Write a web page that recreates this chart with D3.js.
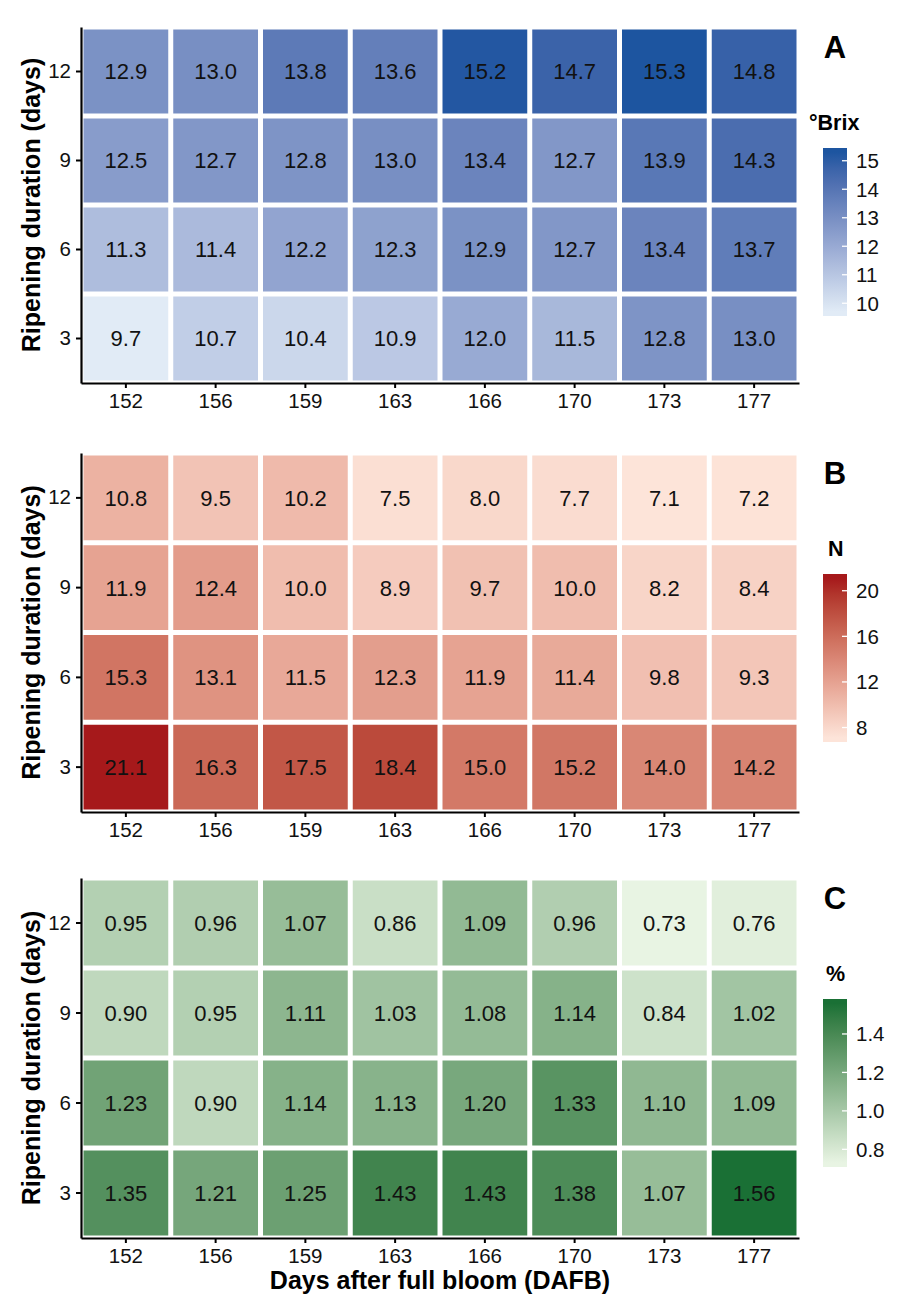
<!DOCTYPE html>
<html><head><meta charset="utf-8">
<script src="https://cdn.jsdelivr.net/npm/d3@7"></script>
<style>body{margin:0;background:#fff} svg{display:block} text{font-family:"Liberation Sans",Arial,sans-serif}</style>
</head><body><svg id="c" width="901" height="1309"></svg>
<script>
// ---- data ----
const days = ["152","156","159","163","166","170","173","177"];
const durations = ["12","9","6","3"];
const brix = [
  [12.9,13.0,13.8,13.6,15.2,14.7,15.3,14.8],
  [12.5,12.7,12.8,13.0,13.4,12.7,13.9,14.3],
  [11.3,11.4,12.2,12.3,12.9,12.7,13.4,13.7],
  [9.7,10.7,10.4,10.9,12.0,11.5,12.8,13.0]
];
const nitrogen = [
  [10.8,9.5,10.2,7.5,8.0,7.7,7.1,7.2],
  [11.9,12.4,10.0,8.9,9.7,10.0,8.2,8.4],
  [15.3,13.1,11.5,12.3,11.9,11.4,9.8,9.3],
  [21.1,16.3,17.5,18.4,15.0,15.2,14.0,14.2]
];
const percent = [
  [0.95,0.96,1.07,0.86,1.09,0.96,0.73,0.76],
  [0.90,0.95,1.11,1.03,1.08,1.14,0.84,1.02],
  [1.23,0.90,1.14,1.13,1.20,1.33,1.10,1.09],
  [1.35,1.21,1.25,1.43,1.43,1.38,1.07,1.56]
];
const brixTicks = [10,11,12,13,14,15];
const nTicks = [8,12,16,20];
const pctTicks = [0.8,1.0,1.2,1.4];
const panelLetters = ["A","B","C"];
const legendTitles = ["°Brix","N","%"];
const xTitle = "Days after full bloom (DAFB)";
const yTitle = "Ripening duration (days)";

// ---- layout / style ----
const panels = [
  {values:brix, ticks:brixTicks, fmt:".1f", tfmt:"d", low:"#E1EBF6", high:"#1D55A0", top:27, bottom:383, titleX:809},
  {values:nitrogen, ticks:nTicks, fmt:".1f", tfmt:"d", low:"#FDE4D9", high:"#A6191B", top:453, bottom:812, titleX:828},
  {values:percent, ticks:pctTicks, fmt:".2f", tfmt:".1f", low:"#E8F4E3", high:"#1A7035", top:878, bottom:1238, titleX:826}
];
const left = 81, right = 799;
const svg = d3.select("#c");

panels.forEach((p, pi) => {
  const g = svg.append("g");
  const x = d3.scaleBand().domain(days).range([left, right]).padding(0);
  const y = d3.scaleBand().domain(durations).range([p.top, p.bottom]).padding(0);
  const flat = p.values.flat();
  const ext = d3.extent(flat);
  const color = d3.scaleLinear().domain(ext).range([p.low, p.high]).interpolate(d3.interpolateLab).clamp(true);

  const cells = [];
  durations.forEach((dur, r) => days.forEach((day, c) => cells.push({dur, day, v: p.values[r][c]})));

  const inset = 2.5;
  g.selectAll("rect.tile").data(cells).enter().append("rect")
    .attr("x", d => x(d.day) + inset)
    .attr("y", d => y(d.dur) + inset)
    .attr("width", x.bandwidth() - 2*inset)
    .attr("height", y.bandwidth() - 2*inset)
    .attr("fill", d => color(d.v));

  g.selectAll("text.val").data(cells).enter().append("text")
    .attr("x", d => x(d.day) + x.bandwidth()/2)
    .attr("y", d => y(d.dur) + y.bandwidth()/2)
    .attr("dy", "0.36em")
    .attr("text-anchor", "middle")
    .attr("font-size", 22)
    .attr("fill", "#111")
    .text(d => d3.format(p.fmt)(d.v));

  // axes
  const ax = g.append("g").attr("transform", `translate(0,${p.bottom})`)
    .call(d3.axisBottom(x).tickSize(5).tickPadding(5).tickSizeOuter(0));
  const ay = g.append("g").attr("transform", `translate(${left},0)`)
    .call(d3.axisLeft(y).tickSize(5).tickPadding(5).tickSizeOuter(0));
  [ax, ay].forEach(a => {
    a.attr("font-family", null).attr("font-size", null);
    a.select(".domain").attr("stroke", "#000").attr("stroke-width", 2.2);
    a.selectAll(".tick line").attr("stroke", "#000").attr("stroke-width", 2);
    a.selectAll(".tick text").attr("font-size", 20.5).attr("fill", "#111");
  });

  // y title
  g.append("text")
    .attr("transform", `translate(40,${(p.top + p.bottom)/2}) rotate(-90)`)
    .attr("text-anchor", "middle").attr("font-weight", "bold").attr("font-size", 25)
    .attr("fill", "#000")
    .text(yTitle);

  // panel letter
  g.append("text").attr("x", 835).attr("y", p.top + 31)
    .attr("text-anchor", "middle").attr("font-weight", "bold").attr("font-size", 31)
    .text(panelLetters[pi]);

  // legend
  g.append("text").attr("x", p.titleX).attr("y", p.top + 103)
    .attr("font-weight", "bold").attr("font-size", 21.5)
    .text(legendTitles[pi]);
  const barTop = p.top + 121, L = 168, barBottom = barTop + L, bx = 823, bw = 24;
  const ly = d3.scaleLinear().domain(ext).range([barBottom - L/40, barTop + L/40]);
  const gid = "grad" + pi;
  const grad = svg.append("defs").append("linearGradient").attr("id", gid)
    .attr("x1", 0).attr("y1", 1).attr("x2", 0).attr("y2", 0);
  d3.range(0, 11).forEach(i => {
    const v = ext[0] + (ext[1] - ext[0]) * i / 10;
    grad.append("stop").attr("offset", (barBottom - ly(v)) / L).attr("stop-color", color(v));
  });
  g.append("rect").attr("x", bx).attr("y", barTop).attr("width", bw).attr("height", L)
    .attr("fill", `url(#${gid})`);
  const lt = g.selectAll("g.lt").data(p.ticks).enter().append("g");
  lt.append("line").attr("x1", bx + bw - 5).attr("x2", bx + bw)
    .attr("y1", d => ly(d)).attr("y2", d => ly(d)).attr("stroke", "#fff").attr("stroke-width", 1.3);
  lt.append("text").attr("x", 856).attr("y", d => ly(d)).attr("dy", "0.36em")
    .attr("font-size", 20.5).attr("fill", "#111").text(d => d3.format(p.tfmt)(d));
});

svg.append("text").attr("x", (left + right)/2).attr("y", 1289)
  .attr("text-anchor", "middle").attr("font-weight", "bold").attr("font-size", 25)
  .text(xTitle);
</script></body></html>
